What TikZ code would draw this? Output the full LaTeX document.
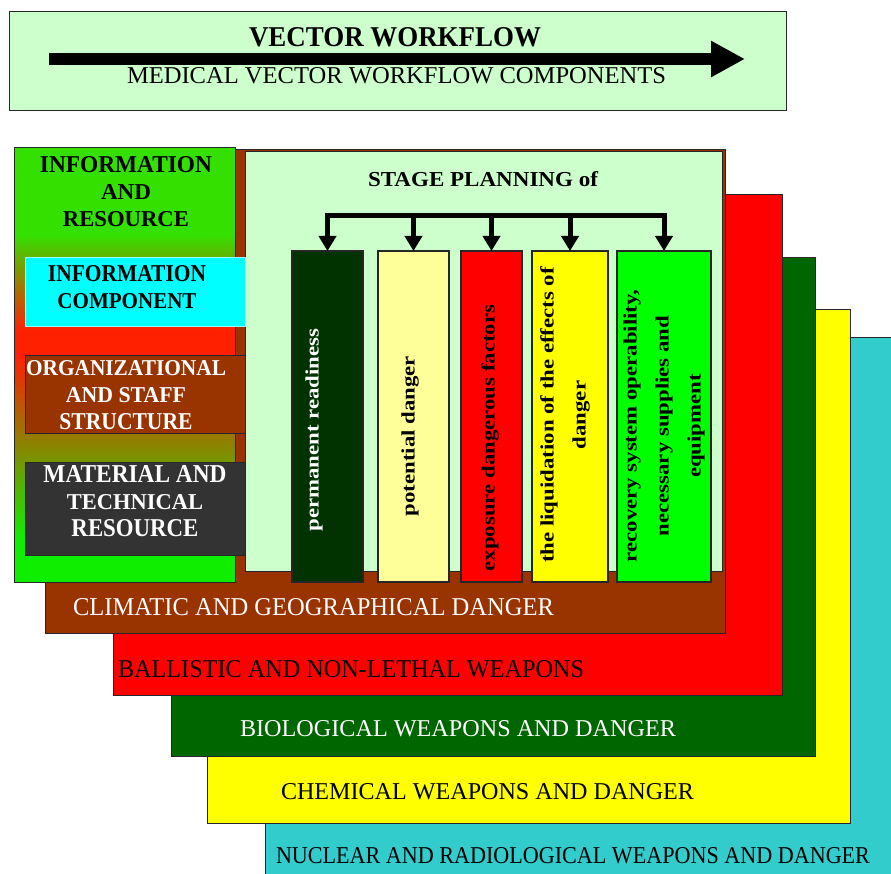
\documentclass[tikz,border=0pt]{standalone}
\usepackage{graphicx}
\usepackage{fontspec}
\setmainfont{Liberation Serif}
\usetikzlibrary{arrows.meta}
\definecolor{lgreen}{HTML}{CCFFCC}
\definecolor{brownc}{HTML}{993300}
\definecolor{redc}{HTML}{FF0000}
\definecolor{dgreenc}{HTML}{006600}
\definecolor{yellowc}{HTML}{FFFF00}
\definecolor{tealc}{HTML}{33CCCC}
\definecolor{cyanc}{HTML}{00FFFF}
\definecolor{greyc}{HTML}{333333}
\definecolor{bara}{HTML}{003300}
\definecolor{barb}{HTML}{FFFF99}
\definecolor{bare}{HTML}{00FF00}
\definecolor{gtop}{HTML}{33E000}
\definecolor{gmid}{HTML}{FF2000}
\definecolor{gbot}{HTML}{10EE00}
\pgfdeclareverticalshading{infograd}{100bp}{color(0bp)=(gbot); color(30bp)=(gbot); color(51bp)=(gmid); color(54bp)=(gmid); color(65bp)=(gtop); color(100bp)=(gtop)}
\newcommand{\fitbox}[3]{\resizebox{#1pt}{#2pt}{#3}}
\newcommand{\vstretch}[1]{\scalebox{1.2}[1]{#1}}
\begin{document}
\begin{tikzpicture}[x=1pt,y=-1pt,
  layer/.style={draw=black!85, line width=1pt},
  barbox/.style={draw=black!85, line width=1.5pt, inner sep=0pt, outer sep=0pt, minimum height=331pt},
  lbl/.style={inner sep=0pt, outer sep=0pt, font=\fontsize{18}{24}\selectfont},
  blbl/.style={inner sep=0pt, outer sep=0pt, align=center, font=\fontsize{18}{27}\selectfont\bfseries},
  vlbl/.style={inner sep=0pt, outer sep=0pt, align=center, rotate=90, font=\fontsize{19}{32}\selectfont\bfseries},
  conn/.style={line width=5pt, -{Triangle[width=17pt,length=15pt]}}
]
\useasboundingbox (0,0) rectangle (891,874);
% top banner
\path[layer, fill=lgreen] (9,12) rectangle (786,111);
\coordinate (a0) at (49,59);
\coordinate (a1) at (745,59);
\draw[line width=12pt, -{Triangle[width=34pt,length=34pt]}] (a0) -- (a1);
\node[lbl, anchor=base west, font=\fontsize{18}{24}\selectfont\bfseries] (vw) at (249,47) {\fitbox{292}{19}{VECTOR WORKFLOW}};
\node[lbl, anchor=base west] (mv) at (127,84) {\fitbox{539}{16}{MEDICAL VECTOR WORKFLOW COMPONENTS}};
% stacked layers
\path[layer, fill=tealc] (265,338) rectangle (893,876);
\path[layer, fill=yellowc] (207,310) rectangle (850,823);
\path[layer, fill=dgreenc] (171,258) rectangle (815,756);
\path[layer, fill=redc] (113,195) rectangle (782,695);
\path[layer, fill=brownc] (45,150) rectangle (725,633);
\node[lbl, anchor=base west] (l5) at (276,863) {\fitbox{594}{16}{NUCLEAR AND RADIOLOGICAL WEAPONS AND DANGER}};
\node[lbl, anchor=base west] (l4) at (281,799) {\fitbox{413}{16}{CHEMICAL WEAPONS AND DANGER}};
\node[lbl, anchor=base west, text=white] (l3) at (240,736) {\fitbox{436}{16}{BIOLOGICAL WEAPONS AND DANGER}};
\node[lbl, anchor=base west] (l2) at (118,677) {\fitbox{466}{17}{BALLISTIC AND NON-LETHAL WEAPONS}};
\node[lbl, anchor=base west, text=white] (l1) at (73,615) {\fitbox{481}{17}{CLIMATIC AND GEOGRAPHICAL DANGER}};
% stage planning box
\path[layer, fill=lgreen] (245,152) rectangle (722,571);
\node[lbl, anchor=base west, font=\fontsize{18}{24}\selectfont\bfseries] (sp) at (368,187) {\fitbox{230}{15}{STAGE PLANNING of}};
% left info box
\path[layer, shading=infograd] (14,148) rectangle (235,582);
\node[blbl, anchor=north] (ir) at (126,157) {\fitbox{172}{16}{INFORMATION}\\\fitbox{50}{15}{AND}\\\fitbox{126}{15}{RESOURCE}};
\path[draw=cyanc!40!white, line width=1pt, fill=cyanc] (25,258) rectangle (245,327);
\node[blbl, anchor=north] (ic) at (127,266) {\fitbox{158}{16}{INFORMATION}\\\fitbox{139}{15}{COMPONENT}};
\path[layer, fill=brownc] (25,355) rectangle (245,433);
\node[blbl, anchor=north, text=white] (os) at (126,360) {\fitbox{200}{15}{ORGANIZATIONAL}\\\fitbox{120}{15}{AND STAFF}\\\fitbox{133}{16}{STRUCTURE}};
\path[layer, fill=greyc] (25,462) rectangle (245,555);
\node[blbl, anchor=north, text=white] (mt) at (135,465) {\fitbox{183}{17}{MATERIAL AND}\\\fitbox{136}{15}{TECHNICAL}\\\fitbox{127}{17}{RESOURCE}};
% bars
\node[barbox, fill=bara, minimum width=71pt] (b1) at (327.5,416.5) {};
\node[barbox, fill=barb, minimum width=71pt] (b2) at (413.5,416.5) {};
\node[barbox, fill=redc, minimum width=61pt] (b3) at (491.5,416.5) {};
\node[barbox, fill=yellowc, minimum width=76pt] (b4) at (570,416.5) {};
\node[barbox, fill=bare, minimum width=94pt] (b5) at (664,416.5) {};
\node[vlbl, text=white] (v1) at (314,430) {\vstretch{permanent readiness}};
\node[vlbl] (v2) at (410,436) {\vstretch{potential danger}};
\node[vlbl] (v3) at (490,438) {\vstretch{exposure dangerous factors}};
\node[vlbl] (v4) at (565,415) {\vstretch{the liquidation of the effects of}\\\vstretch{danger}};
\node[vlbl] (v5) at (664,426) {\vstretch{recovery system operability,}\\\vstretch{necessary supplies and}\\\vstretch{equipment}};
% connectors
\coordinate (hl) at (325,215.5);
\coordinate (hr) at (666.5,215.5);
\draw[line width=5pt] (hl) -- (hr);
\foreach \b in {b1,b2,b3,b4,b5}{
  \draw[conn] (\b.north |- hl) -- (\b.north);
}
\end{tikzpicture}
\end{document}
